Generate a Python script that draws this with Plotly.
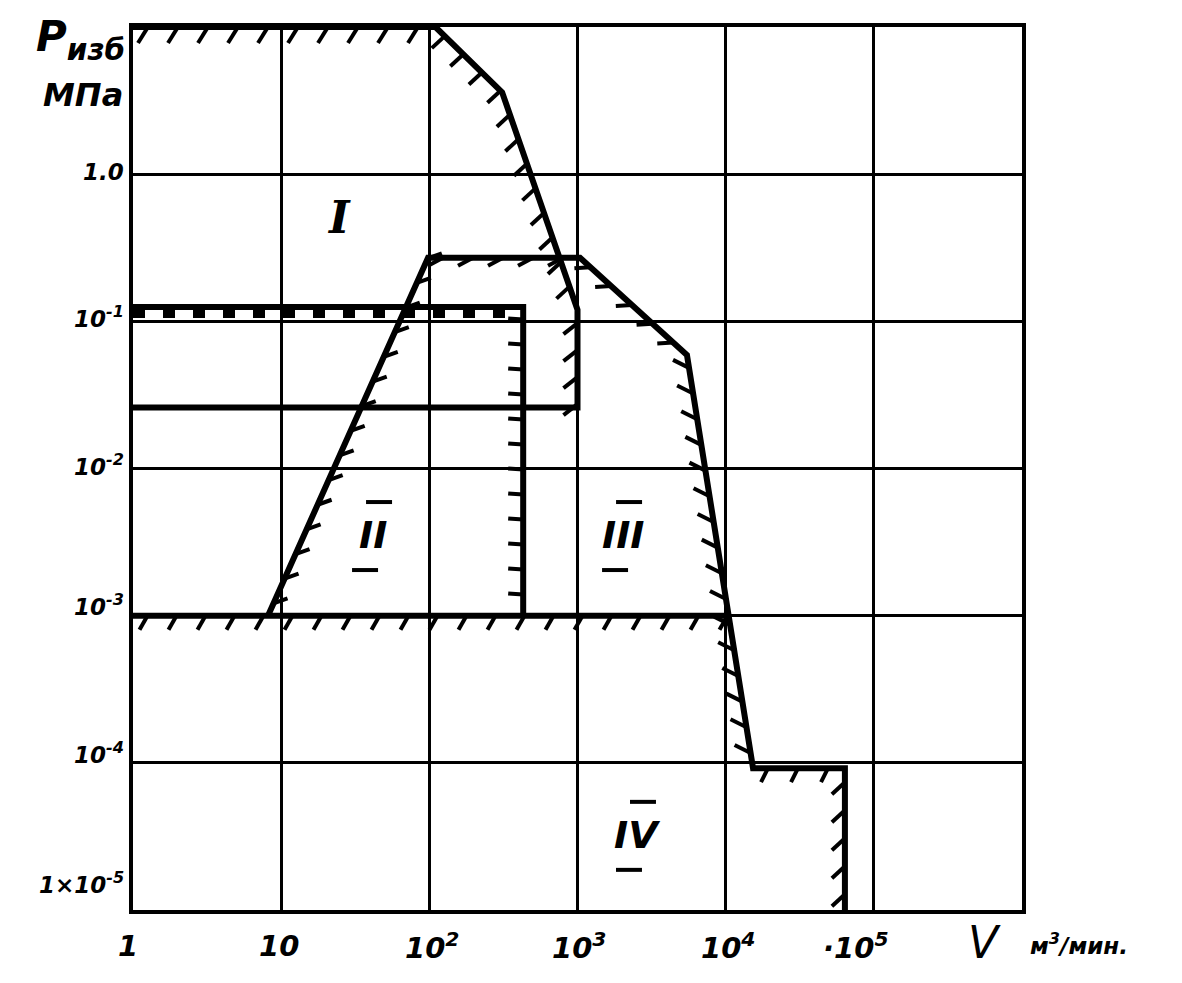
import numpy as np
import plotly.graph_objects as go

# ---------------- data ----------------
X_TICK_VALUES = [1, 10, 100, 1000, 1e4, 1e5]
X_TICK_LABELS = ["1", "10", "10<sup>2</sup>", "10<sup>3</sup>", "10<sup>4</sup>", "·10<sup>5</sup>"]
Y_TICK_VALUES = [1.0, 1e-1, 1e-2, 1e-3, 1e-4, 1e-5]
Y_TICK_LABELS = ["1.0", "10<sup>-1</sup>", "10<sup>-2</sup>", "10<sup>-3</sup>", "10<sup>-4</sup>", "1×10<sup>-5</sup>"]

# Region I boundary (V, m3/min ; P, MPa)
REGION_I_V = [1, 110, 310, 1000, 1000, 1]
REGION_I_P = [10, 10, 3.6, 0.12, 0.026, 0.026]

# Outer boundary of regions II / III / IV
OUTER_V = [8.15, 98, 1040, 5480, 15300, 63800, 63800]
OUTER_P = [1e-3, 0.27, 0.27, 0.059, 9.2e-5, 9.2e-5, 1e-5]

# Region II rectangle (top and right side)
RECT_II_V = [1, 430, 430]
RECT_II_P = [0.125, 0.125, 1e-3]
BAND_P = 0.112          # dashed band under the top of rectangle II

# Common lower boundary of regions II and III
BASE_V = [1, 1.05e4]
BASE_P = [1e-3, 1e-3]

REGION_LABELS = ["I", "II", "III", "IV"]
LABEL_V = [24.6, 41.7, 2030, 2520]
LABEL_P = [0.51, 3.53e-3, 3.53e-3, 3.24e-5]

# ---------------- style ----------------
BODY = 8                      # default page margin of the html body
W, H = 1182 - 2 * BODY, 983 - 2 * BODY
ML, MT = 133 - BODY, 27 - BODY
MR = W - (1022 - BODY)
MB = H - (910 - BODY)
XR, YR = [0, 6], [-5, 1]
PX_X = (W - ML - MR) / (XR[1] - XR[0])
PX_Y = (H - MT - MB) / (YR[1] - YR[0])
LINE_W = 6
HATCH_W = 4
GRID_W = 3
FONT = "DejaVu Sans"
SERIF = "DejaVu Serif"


def to_px(v, p):
    return np.log10(v) * PX_X, -np.log10(p) * PX_Y


def from_px(a, b):
    return 10 ** (a / PX_X), 10 ** (-b / PX_Y)


def hatch(vs, ps, off, spacing=28.0, start=None):
    """Short hatch strokes along a polyline, offset in pixels (dx right, dy down)."""
    px, py = to_px(np.asarray(vs, float), np.asarray(ps, float))
    hx, hy = [], []
    pos = spacing / 2 if start is None else start
    acc = 0.0
    for i in range(len(px) - 1):
        seg = np.hypot(px[i + 1] - px[i], py[i + 1] - py[i])
        while pos <= acc + seg:
            t = (pos - acc) / seg
            x0 = px[i] + t * (px[i + 1] - px[i])
            y0 = py[i] + t * (py[i + 1] - py[i])
            for (a, b) in [(x0, y0), (x0 + off[0], y0 + off[1])]:
                u, w = from_px(a, b)
                hx.append(u)
                hy.append(w)
            hx.append(None)
            hy.append(None)
            pos += spacing
        acc += seg
    return hx, hy


fig = go.Figure()

# main boundary lines
for vs, ps in [(REGION_I_V, REGION_I_P), (OUTER_V, OUTER_P), (RECT_II_V, RECT_II_P), (BASE_V, BASE_P)]:
    fig.add_trace(go.Scatter(x=vs, y=ps, mode="lines", line=dict(color="black", width=LINE_W),
                             hoverinfo="skip", showlegend=False))

# dashed band under top of rectangle II
fig.add_trace(go.Scatter(x=RECT_II_V[:2], y=[BAND_P, BAND_P], mode="lines",
                         line=dict(color="black", width=8, dash="12px,18px"),
                         hoverinfo="skip", showlegend=False))

# hatching
specs = [
    (REGION_I_V[0:2], REGION_I_P[0:2], (-10, 16), 30),
    (REGION_I_V[1:4], REGION_I_P[1:4], (-13, 12), 26),
    (REGION_I_V[3:5], REGION_I_P[3:5], (-14, 11), 27),
    (OUTER_V[0:2], OUTER_P[0:2], (14, -5), 27),
    (OUTER_V[1:3], OUTER_P[1:3], (-15, 8), 30),
    (OUTER_V[2:4], OUTER_P[2:4], (-16, 1), 28),
    (OUTER_V[3:5], OUTER_P[3:5], (-16, -8), 26),
    (OUTER_V[4:6], OUTER_P[4:6], (-7, 14), 30),
    (OUTER_V[5:7], OUTER_P[5:7], (-13, 12), 28),
    (RECT_II_V[1:3], RECT_II_P[1:3], (-15, -1), 25),
    (BASE_V, BASE_P, (-8, 14), 29),
]
allx, ally = [], []
for vs, ps, off, sp in specs:
    hx, hy = hatch(vs, ps, off, sp)
    allx += hx
    ally += hy
fig.add_trace(go.Scatter(x=allx, y=ally, mode="lines", line=dict(color="black", width=HATCH_W),
                         hoverinfo="skip", showlegend=False, connectgaps=False))

# over / under bars of the Roman numerals II, III, IV (drawn as strokes around the label)
bx, by = [], []
for lab, v, p in zip(REGION_LABELS, LABEL_V, LABEL_P):
    if lab == "I":
        continue
    cx, cy = to_px(v, p)
    for dx, dy in [(6, -33), (-8, 35)]:
        for ex in (-13, 13):
            u, w = from_px(cx + dx + ex, cy + dy)
            bx.append(u)
            by.append(w)
        bx.append(None)
        by.append(None)
fig.add_trace(go.Scatter(x=bx, y=by, mode="lines", line=dict(color="black", width=4),
                         hoverinfo="skip", showlegend=False, connectgaps=False))

annotations = []
# x tick labels
x_shift = [-5, -2, 3, 1, 2, -18]
for v, lab, sh in zip(X_TICK_VALUES, X_TICK_LABELS, x_shift):
    annotations.append(dict(x=np.log10(v), y=0, xref="x", yref="paper", text="<b><i>" + lab + "</i></b>",
                            showarrow=False, yanchor="middle", yshift=-36, xshift=sh,
                            font=dict(size=29, family=FONT, color="black")))
# y tick labels
y_shift = [2, 4, 4, 11, 10, 27]
for p, lab, sh in zip(Y_TICK_VALUES, Y_TICK_LABELS, y_shift):
    annotations.append(dict(x=0, y=np.log10(p), xref="paper", yref="y", text="<b><i>" + lab + "</i></b>",
                            showarrow=False, xanchor="right", yanchor="middle", xshift=-7, yshift=sh,
                            font=dict(size=23, family=FONT, color="black")))
# axis titles
annotations.append(dict(x=0, y=1, xref="paper", yref="paper", text="<b><i>P<sub>изб</sub></i></b>",
                        showarrow=False, xanchor="right", yanchor="middle", xshift=-6, yshift=-12,
                        font=dict(size=42, family=FONT, color="black")))
annotations.append(dict(x=0, y=1, xref="paper", yref="paper", text="<b><i>МПа</i></b>",
                        showarrow=False, xanchor="right", yanchor="middle", xshift=-8, yshift=-68,
                        font=dict(size=32, family=FONT, color="black")))
annotations.append(dict(x=1, y=0, xref="paper", yref="paper", text="<i>V</i>",
                        showarrow=False, xanchor="center", yanchor="middle", xshift=-38, yshift=-32,
                        font=dict(size=44, family=FONT, color="black")))
annotations.append(dict(x=1, y=0, xref="paper", yref="paper", text="<b><i>м<sup>3</sup>/мин.</i></b>",
                        showarrow=False, xanchor="left", yanchor="middle", xshift=6, yshift=-34,
                        font=dict(size=23, family=FONT, color="black")))
# region labels
for lab, v, p in zip(REGION_LABELS, LABEL_V, LABEL_P):
    annotations.append(dict(x=np.log10(v), y=np.log10(p), xref="x", yref="y",
                            text="<b><i>" + lab + "</i></b>", showarrow=False,
                            font=dict(size=44 if lab == "I" else 38,
                                      family=SERIF if lab == "I" else FONT, color="black")))

axis_common = dict(type="log", showgrid=True, gridcolor="black", gridwidth=GRID_W, dtick=1,
                   showline=True, linecolor="black", linewidth=4, mirror=True,
                   showticklabels=False, ticks="", zeroline=False)
fig.update_layout(
    width=W, height=H,
    margin=dict(l=ML, r=MR, t=MT, b=MB),
    paper_bgcolor="white", plot_bgcolor="white",
    xaxis=dict(range=XR, **axis_common),
    yaxis=dict(range=YR, **axis_common),
    annotations=annotations,
    showlegend=False,
)
fig.write_html("out.html")
